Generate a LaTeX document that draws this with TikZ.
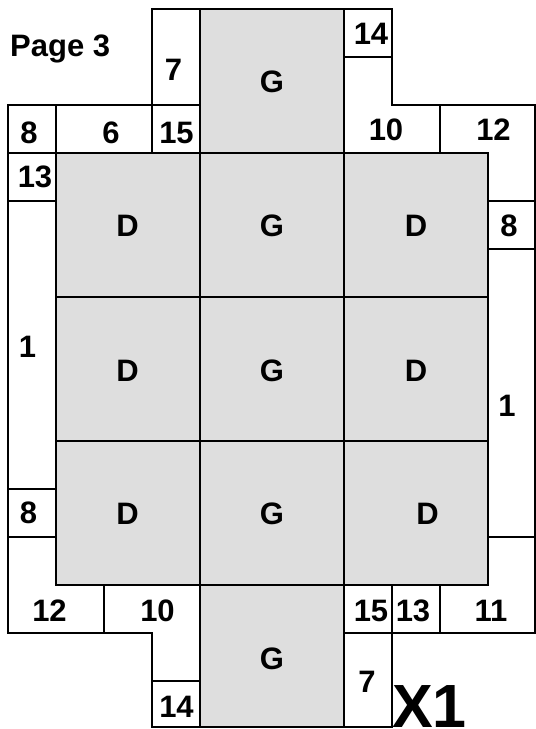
\documentclass[tikz,border=0pt]{standalone}
\usepackage{fontspec}
\setmainfont{Liberation Sans}
\definecolor{cellgray}{RGB}{222,222,222}
\begin{document}
\begin{tikzpicture}[x=1pt,y=-1pt,
  wall/.style={draw=black,line width=1.6pt,line cap=rect,line join=miter},
  shade/.style={fill=cellgray},
  lbl/.style={inner sep=0pt,font=\fontsize{31}{32}\bfseries\selectfont},
  big/.style={inner sep=0pt,font=\fontsize{61}{62}\bfseries\selectfont}]
\useasboundingbox (0,0) rectangle (536,729);
% gray regions
\fill[shade] (200,9) rectangle (344,153);
\fill[shade] (56,153) rectangle (488,585);
\fill[shade] (200,585) rectangle (344,727);
% outer and inner lines
\draw[wall] (152,9) -- (392,9);
\draw[wall] (344,57) -- (392,57);
\draw[wall] (392,9) -- (392,105) -- (535,105) -- (535,633) -- (344,633);
\draw[wall] (152,9) -- (152,105) -- (8,105) -- (8,633) -- (152,633) -- (152,727) -- (392,727) -- (392,585);
\draw[wall] (8,153) -- (488,153);
\draw[wall] (152,105) -- (200,105);
\draw[wall] (56,105) -- (56,585);
\draw[wall] (152,105) -- (152,153);
\draw[wall] (200,9) -- (200,727);
\draw[wall] (344,9) -- (344,727);
\draw[wall] (440,105) -- (440,153);
\draw[wall] (488,153) -- (488,585);
\draw[wall] (488,201) -- (535,201);
\draw[wall] (488,249) -- (535,249);
\draw[wall] (488,537) -- (535,537);
\draw[wall] (8,201) -- (56,201);
\draw[wall] (8,489) -- (56,489);
\draw[wall] (8,537) -- (56,537);
\draw[wall] (56,297) -- (488,297);
\draw[wall] (56,441) -- (488,441);
\draw[wall] (56,585) -- (488,585);
\draw[wall] (104,585) -- (104,633);
\draw[wall] (440,585) -- (440,633);
\draw[wall] (152,681) -- (200,681);
% labels
\node[lbl,anchor=base west] (page) at (10,56) {Page 3};
\node[lbl] (t7) at (173.5,69.5) {7};
\node[lbl] (t8) at (29,133) {8};
\node[lbl] (t6) at (111,133) {6};
\node[lbl] (t15) at (176.5,133) {15};
\node[lbl] (t14) at (371,33.5) {14};
\node[lbl] (t10) at (386,130) {10};
\node[lbl] (t12) at (493.5,130) {12};
\node[lbl] (l13) at (35,177) {13};
\node[lbl] (l1) at (27.5,347) {1};
\node[lbl] (l8) at (28.5,513) {8};
\node[lbl] (r8) at (509,226) {8};
\node[lbl] (r1) at (507,406) {1};
\node[lbl] (b12) at (49.5,611) {12};
\node[lbl] (b10) at (157.5,611) {10};
\node[lbl] (b14) at (176.5,707) {14};
\node[lbl] (b15) at (371,611) {15};
\node[lbl] (b13) at (413,611) {13};
\node[lbl] (b11) at (491,611) {11};
\node[lbl] (b7) at (367,682) {7};
\node[lbl] (g0) at (272,82) {G};
\node[lbl] (g1) at (272,226) {G};
\node[lbl] (g2) at (272,371) {G};
\node[lbl] (g3) at (272,514) {G};
\node[lbl] (g4) at (272,659) {G};
\node[lbl] (d1) at (127.5,226) {D};
\node[lbl] (d2) at (127.5,371) {D};
\node[lbl] (d3) at (127.5,514) {D};
\node[lbl] (d4) at (416,226) {D};
\node[lbl] (d5) at (416,371) {D};
\node[lbl] (d6) at (427.5,514) {D};
\node[big,anchor=base west] (x1) at (392,727) {X1};
\end{tikzpicture}
\end{document}
